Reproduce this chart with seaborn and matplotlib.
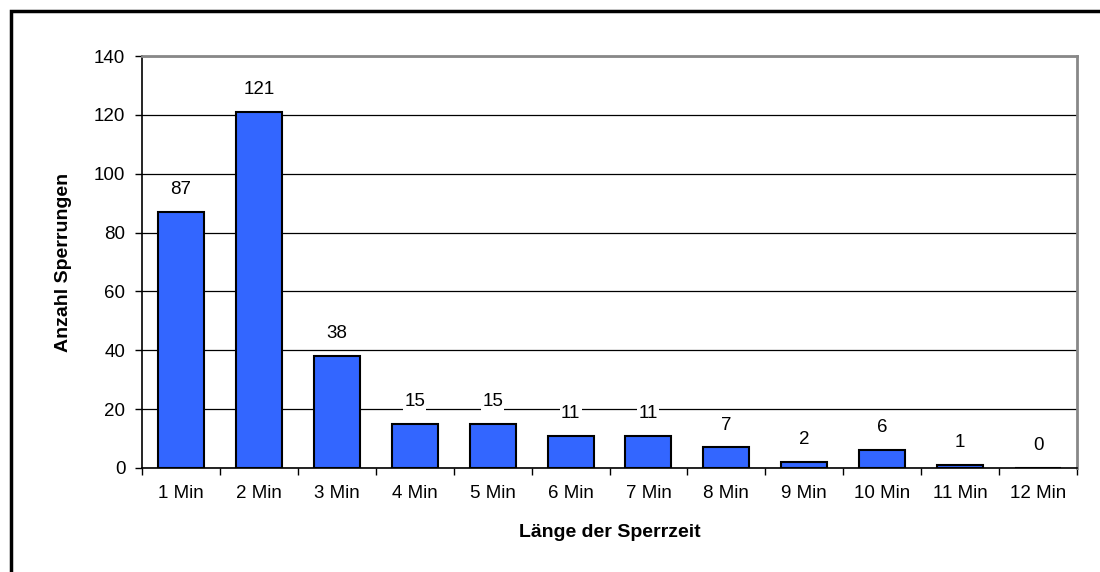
import pandas as pd
import matplotlib.pyplot as plt
import seaborn as sns
from matplotlib.patches import Rectangle

# Werte
kategorien = ['1 Min', '2 Min', '3 Min', '4 Min', '5 Min', '6 Min',
              '7 Min', '8 Min', '9 Min', '10 Min', '11 Min', '12 Min']
anzahl = [87, 121, 38, 15, 15, 11, 11, 7, 2, 6, 1, 0]

df = pd.DataFrame({'sperrzeit': kategorien, 'anzahl': anzahl})

sns.set_style('white', {'text.color': 'black', 'axes.labelcolor': 'black',
                        'xtick.color': 'black', 'ytick.color': 'black'})
plt.rcParams['font.family'] = ['Liberation Sans', 'DejaVu Sans']

fig = plt.figure(figsize=(11, 5.72), dpi=100)
ax = fig.add_axes([142 / 1100, 1 - 468 / 572, (1077 - 142) / 1100, (468 - 56) / 572])

sns.barplot(data=df, x='sperrzeit', y='anzahl', color='#3366FF', saturation=1,
            width=0.59, edgecolor='black', linewidth=1.5, ax=ax, zorder=3)

ax.set_ylim(0, 140)
ax.set_xlim(-0.5, len(kategorien) - 0.5)
ax.set_yticks(range(0, 141, 20))
ax.yaxis.grid(True, color='black', linewidth=0.9, zorder=0)
ax.set_axisbelow(True)

# Ticks zwischen den Kategorien wie in Excel
ax.set_xticks([i - 0.5 for i in range(len(kategorien) + 1)], minor=False)
ax.set_xticklabels([])
ax.set_xticks(range(len(kategorien)), minor=True)
ax.set_xticklabels(kategorien, minor=True)
ax.tick_params(axis='x', which='major', direction='out', length=5, width=1, color='black', bottom=True)
ax.tick_params(axis='x', which='minor', length=0, labelsize=13.5, pad=12, labelcolor='black')
ax.tick_params(axis='y', direction='out', length=5, width=1, color='black', left=True,
               labelsize=13.5, pad=7, labelcolor='black')

for s in ['left', 'bottom']:
    ax.spines[s].set_color('black')
    ax.spines[s].set_linewidth(1.2)
for s in ['top', 'right']:
    ax.spines[s].set_color('#888888')
    ax.spines[s].set_linewidth(2)

labels = ax.bar_label(ax.containers[0], padding=10, fontsize=13.5, color='black')
for t in labels:
    t.set_bbox(dict(facecolor='white', edgecolor='none', pad=1))

ax.set_xlabel('Länge der Sperrzeit', fontsize=14, fontweight='bold', labelpad=16, color='black')
ax.set_ylabel('Anzahl Sperrungen', fontsize=14, fontweight='bold', labelpad=16, color='black')

# Rahmen um das Diagramm (nur links und oben sichtbar)
fig.patches.append(Rectangle((11 / 1100, -0.05), 1.2, 1 - 11 / 572 + 0.05,
                             transform=fig.transFigure, fill=False,
                             edgecolor='black', linewidth=2.5))

plt.savefig('out.png', dpi=100)
